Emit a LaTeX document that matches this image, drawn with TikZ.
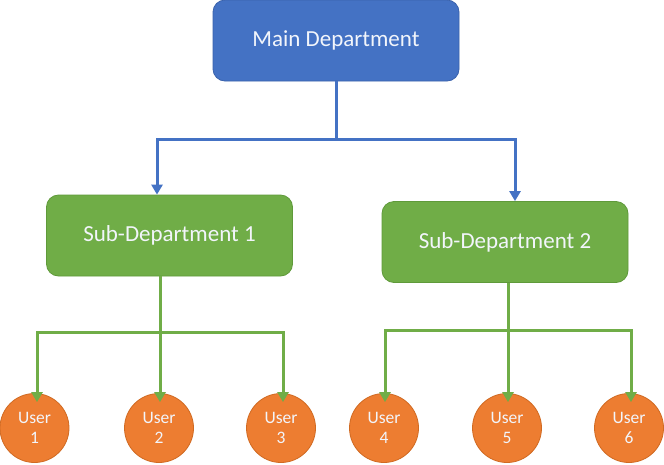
\documentclass[tikz,border=0pt]{standalone}
\usepackage{fontspec}
\setmainfont{Carlito}
\usetikzlibrary{arrows.meta}
\definecolor{cblue}{HTML}{4472C4}
\definecolor{cblueb}{HTML}{3A62AC}
\definecolor{cgreen}{HTML}{70AD47}
\definecolor{cgreenb}{HTML}{5F9A3A}
\definecolor{corange}{HTML}{ED7D31}
\definecolor{corangeb}{HTML}{D06A22}
\definecolor{ctext}{HTML}{F2F5FB}
\tikzset{
  dept/.style={draw=#1b, fill=#1, line width=0.8pt, rounded corners=12pt,
    minimum width=246pt, minimum height=81pt, inner sep=0pt,
    text=ctext, font=\fontsize{23}{26}\selectfont},
  user/.style={circle, draw=corangeb, fill=corange, line width=0.8pt,
    minimum size=69pt, inner sep=0pt, text=ctext, align=center,
    font=\fontsize{17.5}{20}\selectfont},
  conn/.style={draw=#1, line width=3pt,
    -{Triangle[width=11pt,length=10pt]}},
}
\begin{document}
\begin{tikzpicture}[x=1pt,y=-1pt]
\useasboundingbox (0,0) rectangle (664,464);
\fill[white] (0,0) rectangle (664,464);
% departments
\node[dept=cblue] (main) at (336,40.5) {Main Department};
\node[dept=cgreen] (sub1) at (169.5,235.5) {Sub-Department 1};
\node[dept=cgreen] (sub2) at (505,242) {Sub-Department 2};
% users
\node[user] (u1) at (34.5,428) {User\\1};
\node[user] (u2) at (159,428) {User\\2};
\node[user] (u3) at (281,428) {User\\3};
\node[user] (u4) at (384,428) {User\\4};
\node[user] (u5) at (507,428) {User\\5};
\node[user] (u6) at (629,428) {User\\6};
% junction coordinates
\coordinate (mj) at (336,139);
\coordinate (m1) at (157,139);
\coordinate (m2) at (515,139);
\coordinate (s1j) at (160,332);
\coordinate (s2j) at (508,330);
% main connectors
\draw[conn=cblue, line join=miter] (main.south -| mj) -- (mj) -- (m1) -- (m1 |- sub1.north);
\draw[conn=cblue, line join=miter] (mj) -- (m2) -- (m2 |- sub2.north);
% sub1 connectors
\draw[conn=cgreen] (sub1.south -| s1j) -- ([yshift=-9pt]u2.north -| s1j);
\draw[conn=cgreen] (s1j) -- (37,332) -- ([yshift=-9pt]u1.north -| 37,0);
\draw[conn=cgreen] (s1j) -- (283,332) -- ([yshift=-9pt]u3.north -| 283,0);
% sub2 connectors
\draw[conn=cgreen] (sub2.south -| s2j) -- ([yshift=-9pt]u5.north -| s2j);
\draw[conn=cgreen] (s2j) -- (385,330) -- ([yshift=-9pt]u4.north -| 385,0);
\draw[conn=cgreen] (s2j) -- (631,330) -- ([yshift=-9pt]u6.north -| 631,0);
\end{tikzpicture}
\end{document}
